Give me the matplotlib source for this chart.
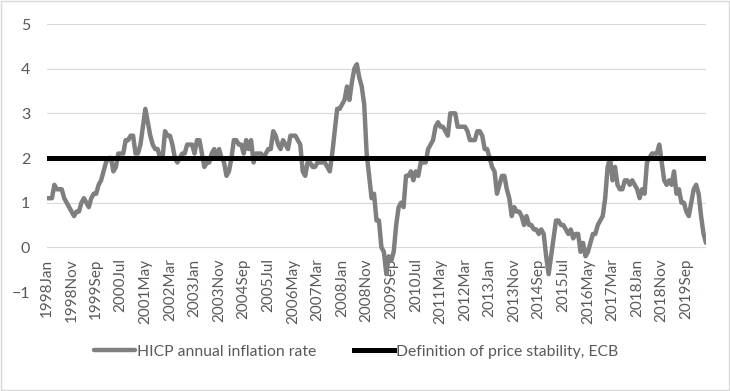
"""HICP annual inflation vs. ECB price stability definition."""

import matplotlib

matplotlib.use("Agg")

import matplotlib.pyplot as plt
from matplotlib.patches import Rectangle

plt.rcParams["font.family"] = ["Lato", "DejaVu Sans"]

month_names = ["Jan", "Feb", "Mar", "Apr", "May", "Jun",
               "Jul", "Aug", "Sep", "Oct", "Nov", "Dec"]

# monthly HICP annual rate, 1998Jan .. 2020May
hicp_rate = [
    1.1, 1.1, 1.1, 1.4, 1.3, 1.3, 1.3, 1.1, 1.0, 0.9, 0.8, 0.7,  # 1998
    0.8, 0.8, 1.0, 1.1, 1.0, 0.9, 1.1, 1.2, 1.2, 1.4, 1.5, 1.7,  # 1999
    1.9, 2.0, 2.0, 1.7, 1.8, 2.1, 2.1, 2.1, 2.4, 2.4, 2.5, 2.5,  # 2000
    2.1, 2.1, 2.3, 2.7, 3.1, 2.8, 2.5, 2.3, 2.2, 2.2, 2.0, 2.0,  # 2001
    2.6, 2.5, 2.5, 2.3, 2.0, 1.9, 2.0, 2.1, 2.1, 2.3, 2.3, 2.3,  # 2002
    2.1, 2.4, 2.4, 2.1, 1.8, 1.9, 1.9, 2.1, 2.2, 2.0, 2.2, 2.0,  # 2003
    1.9, 1.6, 1.7, 2.0, 2.4, 2.4, 2.3, 2.3, 2.1, 2.4, 2.2, 2.4,  # 2004
    1.9, 2.1, 2.1, 2.1, 2.0, 2.1, 2.2, 2.2, 2.6, 2.5, 2.3, 2.2,  # 2005
    2.4, 2.3, 2.2, 2.5, 2.5, 2.5, 2.4, 2.3, 1.7, 1.6, 1.9, 1.9,  # 2006
    1.8, 1.8, 1.9, 1.9, 1.9, 1.9, 1.8, 1.7, 2.1, 2.6, 3.1, 3.1,  # 2007
    3.2, 3.3, 3.6, 3.3, 3.7, 4.0, 4.1, 3.8, 3.6, 3.2, 2.1, 1.6,  # 2008
    1.1, 1.2, 0.6, 0.6, 0.0, -0.1, -0.6, -0.2, -0.3, -0.1, 0.5, 0.9,  # 2009
    1.0, 0.9, 1.6, 1.6, 1.7, 1.5, 1.7, 1.6, 1.9, 1.9, 1.9, 2.2,  # 2010
    2.3, 2.4, 2.7, 2.8, 2.7, 2.7, 2.6, 2.5, 3.0, 3.0, 3.0, 2.7,  # 2011
    2.7, 2.7, 2.7, 2.6, 2.4, 2.4, 2.4, 2.6, 2.6, 2.5, 2.2, 2.2,  # 2012
    2.0, 1.8, 1.7, 1.2, 1.4, 1.6, 1.6, 1.3, 1.1, 0.7, 0.9, 0.8,  # 2013
    0.8, 0.7, 0.5, 0.7, 0.5, 0.5, 0.4, 0.4, 0.3, 0.4, 0.3, -0.2,  # 2014
    -0.6, -0.2, 0.2, 0.6, 0.6, 0.5, 0.5, 0.4, 0.3, 0.4, 0.2, 0.3,  # 2015
    0.3, -0.1, 0.1, -0.2, -0.1, 0.1, 0.3, 0.3, 0.5, 0.6, 0.7, 1.1,  # 2016
    1.8, 2.0, 1.5, 1.8, 1.4, 1.3, 1.3, 1.5, 1.5, 1.4, 1.5, 1.4,  # 2017
    1.3, 1.1, 1.3, 1.2, 1.9, 2.0, 2.1, 2.1, 2.1, 2.3, 1.9, 1.5,  # 2018
    1.4, 1.5, 1.4, 1.7, 1.2, 1.3, 1.0, 1.0, 0.8, 0.7, 1.0, 1.3,  # 2019
    1.4, 1.2, 0.7, 0.3, 0.1,  # 2020
]
price_stability = 2.0

periods = [f"{y}{m}" for y in range(1998, 2021) for m in month_names][:len(hicp_rate)]
x = list(range(len(periods)))
target = [price_stability] * len(periods)

text_color = "#595959"
grid_color = "#d9d9d9"

fig = plt.figure(figsize=(7.3, 3.91), dpi=100)
ax = fig.add_axes([47 / 730, 1 - 292 / 391, 659 / 730, 268 / 391])

ax.plot(x, hicp_rate, color="#7f7f7f", lw=3.2, solid_capstyle="round",
        label="HICP annual inflation rate", zorder=3)
ax.plot(x, target, color="black", lw=3.6,
        label="Definition of price stability, ECB", zorder=4)

for side in ["top", "right", "left", "bottom"]:
    ax.spines[side].set_visible(False)
ax.spines["bottom"].set_position(("data", 0))

ax.set_xlim(0, len(periods) - 1)
ax.set_ylim(-1, 5)
ax.set_yticks(range(-1, 6))
ax.grid(axis="y", color=grid_color, lw=0.8)
ax.set_axisbelow(True)

ax.set_xticks(x[::10])
ax.set_xticklabels(periods[::10])
ax.tick_params(axis="x", length=0, pad=8, labelsize=11, labelrotation=90,
               colors=text_color)
ax.tick_params(axis="y", length=0, pad=12, labelsize=11.5, colors=text_color)

fig.legend(loc="center", bbox_to_anchor=(0.488, 0.1), ncol=2, frameon=False,
           handlelength=2.6, handletextpad=0.1, columnspacing=2.4,
           fontsize=11.3, labelcolor=text_color)

fig.patches.append(Rectangle((0.001, 0.002), 0.997, 0.995, transform=fig.transFigure,
                             fill=False, edgecolor=grid_color, lw=1))

fig.savefig("out.png", dpi=100)
plt.close(fig)
